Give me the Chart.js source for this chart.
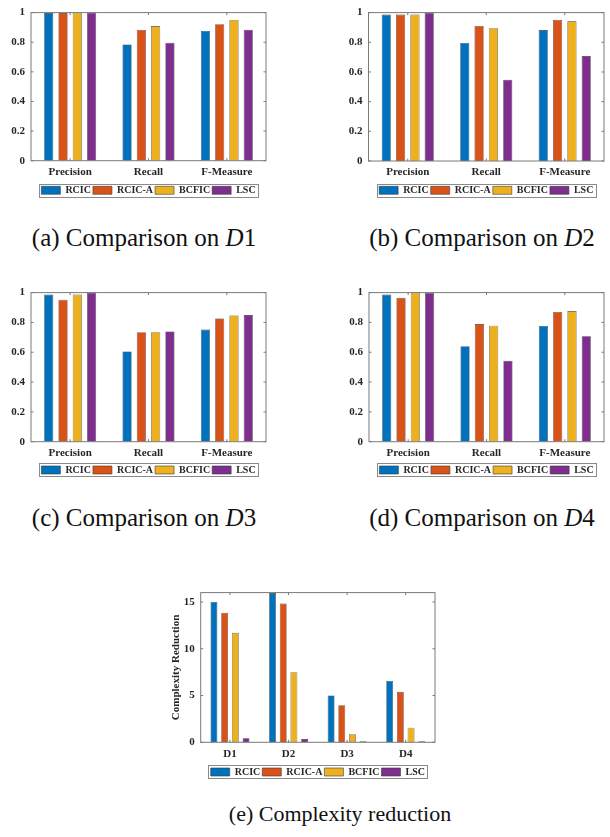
<!DOCTYPE html>
<html>
<head>
<meta charset="utf-8">
<script src="https://cdn.jsdelivr.net/npm/chart.js@4.4.1/dist/chart.umd.min.js"></script>
<style>
  html, body { margin: 0; padding: 0; background: #ffffff; }
  body { width: 610px; height: 837px; position: relative; overflow: hidden; }
  canvas { position: absolute; }
  .cap { position: absolute; transform: translate(-50%, -50%); white-space: nowrap; color: #111;
         font-family: 'Liberation Serif', 'Times New Roman', serif; }
  .cap i { font-style: italic; }
</style>
</head>
<body>
<canvas id="cA" width="300" height="210" style="left:0px;top:0px;"></canvas>
<canvas id="cB" width="305" height="210" style="left:305px;top:0px;"></canvas>
<canvas id="cC" width="300" height="210" style="left:0px;top:280px;"></canvas>
<canvas id="cD" width="305" height="210" style="left:305px;top:280px;"></canvas>
<canvas id="cE" width="305" height="210" style="left:155px;top:580px;"></canvas>

<div class="cap" style="left:144px;top:238px;font-size:25px;">(a) Comparison on <i>D</i>1</div>
<div class="cap" style="left:482px;top:238px;font-size:25px;">(b) Comparison on <i>D</i>2</div>
<div class="cap" style="left:144px;top:518px;font-size:25px;">(c) Comparison on <i>D</i>3</div>
<div class="cap" style="left:482px;top:518px;font-size:25px;">(d) Comparison on <i>D</i>4</div>
<div class="cap" style="left:340px;top:814px;font-size:22px;">(e) Complexity reduction</div>

<script>
// ---------------- data ----------------
const seriesNames = ['RCIC', 'RCIC-A', 'BCFIC', 'LSC'];
const metricCategories = ['Precision', 'Recall', 'F-Measure'];
const datasetCategories = ['D1', 'D2', 'D3', 'D4'];
const ratioTicks = [0, 0.2, 0.4, 0.6, 0.8, 1];
const complexityTicks = [0, 5, 10, 15];

const D1_RCIC  = [0.997, 0.785, 0.876];
const D1_RCICA = [0.997, 0.883, 0.922];
const D1_BCFIC = [1.000, 0.909, 0.950];
const D1_LSC   = [1.000, 0.796, 0.885];

const D2_RCIC  = [0.987, 0.795, 0.882];
const D2_RCICA = [0.987, 0.910, 0.950];
const D2_BCFIC = [0.987, 0.895, 0.941];
const D2_LSC   = [1.000, 0.548, 0.707];

const D3_RCIC  = [0.987, 0.605, 0.752];
const D3_RCICA = [0.952, 0.734, 0.827];
const D3_BCFIC = [0.987, 0.734, 0.847];
const D3_LSC   = [1.000, 0.739, 0.849];

const D4_RCIC  = [0.987, 0.641, 0.776];
const D4_RCICA = [0.965, 0.789, 0.870];
const D4_BCFIC = [1.000, 0.778, 0.876];
const D4_LSC   = [0.998, 0.543, 0.707];

const CR_RCIC  = [15.00, 15.95, 5.00, 6.55];
const CR_RCICA = [13.85, 14.83, 3.96, 5.40];
const CR_BCFIC = [11.70, 7.50, 0.87, 1.56];
const CR_LSC   = [0.42, 0.35, 0.10, 0.12];

// ---------------- styling ----------------
const colors = ['#0072BD', '#D95319', '#EDB120', '#7E2F8E'];
const textColor = '#262626';
const serif = "'Liberation Serif', 'Times New Roman', serif";

const frameTicks = {
  id: 'frameTicks',
  afterDatasetsDraw(chart) {
    const { ctx, chartArea: a, scales: { x, y } } = chart;
    ctx.save();
    ctx.strokeStyle = '#7a7a7a';
    ctx.lineWidth = 1;
    ctx.strokeRect(a.left, a.top, a.right - a.left, a.bottom - a.top);
    const len = 2.5;
    const seg = (x1, y1, x2, y2) => { ctx.beginPath(); ctx.moveTo(x1, y1); ctx.lineTo(x2, y2); ctx.stroke(); };
    y.ticks.forEach(t => {
      const py = y.getPixelForValue(t.value);
      seg(a.left, py, a.left + len, py);
      seg(a.right, py, a.right - len, py);
    });
    x.ticks.forEach((t, i) => {
      const px = x.getPixelForTick(i);
      seg(px, a.bottom, px, a.bottom - len);
      seg(px, a.top, px, a.top + len);
    });
    ctx.restore();
  },
  afterDraw(chart) {
    const hb = chart.legend && chart.legend.legendHitBoxes;
    if (!hb || !hb.length) return;
    const ctx = chart.ctx;
    const last = hb[hb.length - 1];
    const l = hb[0].left - 2.5, r = last.left + last.width + 2.5;
    const t = hb[0].top - 1.6, b = hb[0].top + hb[0].height + 1.2;
    ctx.save();
    ctx.strokeStyle = '#8a8a8a';
    ctx.lineWidth = 1;
    ctx.strokeRect(Math.round(l) + 0.5, Math.round(t) + 0.5, Math.round(r - l), Math.round(b - t));
    ctx.restore();
  }
};

function makeChart(id, geo, labels, series, yMax, yTickValues, yTitle) {
  const canvas = document.getElementById(id);
  const cx = geo.cx, cy = geo.cy, W = canvas.width, H = canvas.height;
  const legendH = 10 + 2 + 10;
  const legendTop = geo.itemTop - 2;
  const padBottom = (cy + H) - (legendTop + legendH);
  return new Chart(canvas, {
    type: 'bar',
    data: {
      labels: labels,
      datasets: series.map((vals, i) => ({
        label: seriesNames[i],
        data: vals,
        backgroundColor: colors[i],
        borderColor: '#3a3a3a',
        borderWidth: 0.6,
        categoryPercentage: 0.73,
        barPercentage: 0.64
      }))
    },
    options: {
      responsive: false,
      animation: false,
      devicePixelRatio: 1,
      layout: { padding: { left: 0, right: (cx + W) - geo.R, top: geo.T - cy, bottom: padBottom } },
      plugins: {
        tooltip: { enabled: false },
        legend: {
          position: 'bottom',
          fullSize: false,
          labels: {
            boxWidth: 19, boxHeight: 8, padding: 2,
            color: textColor,
            font: { family: serif, size: 10, weight: 'bold' }
          }
        }
      },
      scales: {
        x: {
          grid: { display: false, drawTicks: false },
          border: { display: false },
          ticks: { color: textColor, padding: 5, font: { family: serif, size: 11, weight: 'bold' }, maxRotation: 0 },
          afterFit(scale) { scale.height = legendTop - geo.B; }
        },
        y: {
          min: 0, max: yMax,
          grid: { display: false, drawTicks: false },
          border: { display: false },
          afterBuildTicks(scale) { scale.ticks = yTickValues.map(v => ({ value: v })); },
          ticks: { color: textColor, padding: 6, font: { family: serif, size: 11, weight: 'bold' },
                   callback: v => String(v) },
          title: yTitle ? { display: true, text: yTitle, color: textColor,
                            font: { family: serif, size: 11, weight: 'bold' },
                            padding: { top: 15, bottom: 0 } } : { display: false },
          afterFit(scale) { scale.width = geo.L - cx; }
        }
      }
    },
    plugins: [frameTicks]
  });
}

makeChart('cA', { cx: 0, cy: 0, L: 31, R: 266, T: 7.3, B: 160.7, itemTop: 185.3 },
  metricCategories, [D1_RCIC, D1_RCICA, D1_BCFIC, D1_LSC], 1, ratioTicks);
makeChart('cB', { cx: 305, cy: 0, L: 368.5, R: 604, T: 8.3, B: 161, itemTop: 185.3 },
  metricCategories, [D2_RCIC, D2_RCICA, D2_BCFIC, D2_LSC], 1, ratioTicks);
makeChart('cC', { cx: 0, cy: 280, L: 31, R: 266, T: 287.3, B: 441.7, itemTop: 465 },
  metricCategories, [D3_RCIC, D3_RCICA, D3_BCFIC, D3_LSC], 1, ratioTicks);
makeChart('cD', { cx: 305, cy: 280, L: 369, R: 604, T: 288.3, B: 441.7, itemTop: 465 },
  metricCategories, [D4_RCIC, D4_RCICA, D4_BCFIC, D4_LSC], 1, ratioTicks);
makeChart('cE', { cx: 155, cy: 580, L: 200.7, R: 435, T: 589.3, B: 742.3, itemTop: 767 },
  datasetCategories, [CR_RCIC, CR_RCICA, CR_BCFIC, CR_LSC], 16, complexityTicks, 'Complexity Reduction');
</script>
</body>
</html>
